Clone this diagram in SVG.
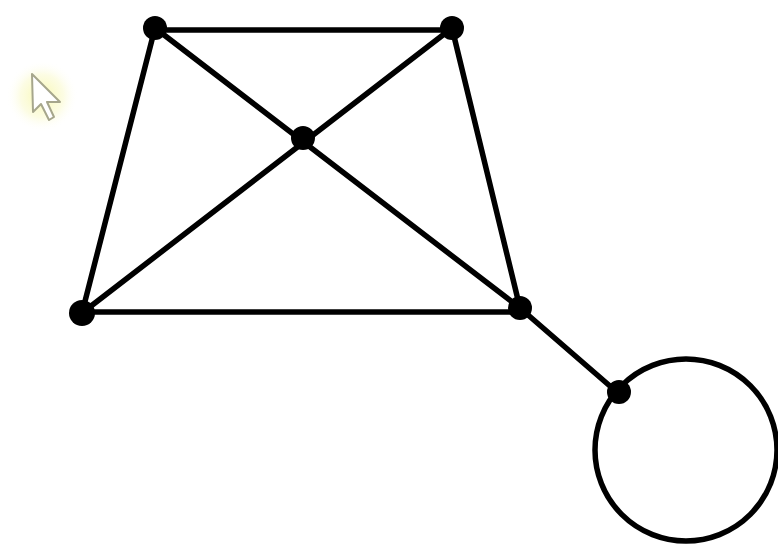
<svg xmlns="http://www.w3.org/2000/svg" width="778" height="549" viewBox="0 0 778 549">
  <defs>
    <radialGradient id="glow" cx="0.5" cy="0.5" r="0.5">
      <stop offset="0" stop-color="#f8f8b0" stop-opacity="1"/>
      <stop offset="0.6" stop-color="#fbfbd8" stop-opacity="0.7"/>
      <stop offset="1" stop-color="#ffffff" stop-opacity="0"/>
    </radialGradient>
  </defs>
  <style>
    .edge { stroke: #000; stroke-width: 5.5; fill: none; stroke-linecap: round; }
    .node { fill: #000; }
  </style>
  <rect width="778" height="549" fill="#ffffff"/>
  <g id="cursor">
    <circle cx="42" cy="96" r="36" fill="url(#glow)"/>
    <path d="M32 74 L33 112 L41 104 L49 120 L54 117 L47 102 L60 102 Z" fill="#ffffff" stroke="#a6a68c" stroke-width="2" stroke-linejoin="round"/>
  </g>
  <g id="connectors">
    <line class="edge" x1="155" y1="30" x2="452" y2="30"/>
    <line class="edge" x1="155" y1="28" x2="82" y2="313"/>
    <line class="edge" x1="452" y1="28" x2="520" y2="308"/>
    <line class="edge" x1="82" y1="312" x2="520" y2="312"/>
    <line class="edge" x1="155" y1="28" x2="520" y2="308"/>
    <line class="edge" x1="452" y1="28" x2="82" y2="313"/>
    <line class="edge" x1="520" y1="308" x2="618" y2="393"/>
    <circle class="edge" cx="686" cy="450" r="91"/>
  </g>
  <g id="n1"><circle class="node" cx="155" cy="28" r="12"/></g>
  <g id="n2"><circle class="node" cx="452" cy="28" r="12"/></g>
  <g id="n3"><circle class="node" cx="303" cy="138" r="12"/></g>
  <g id="n4"><circle class="node" cx="82" cy="313" r="13"/></g>
  <g id="n5"><circle class="node" cx="520" cy="308" r="12"/></g>
  <g id="n6"><circle class="node" cx="619" cy="392" r="12"/></g>
</svg>
